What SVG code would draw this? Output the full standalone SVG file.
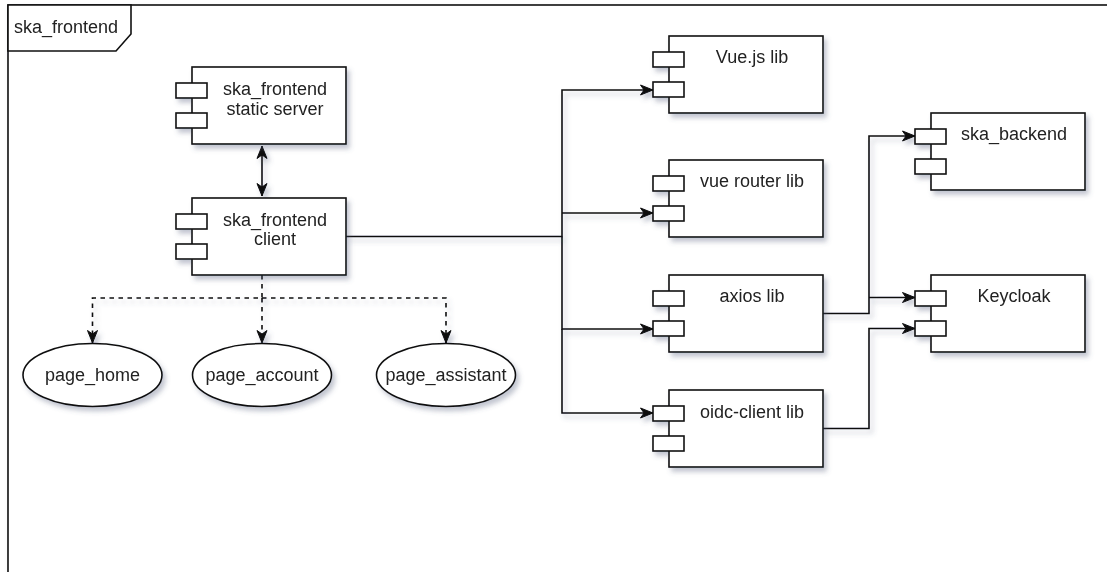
<svg xmlns="http://www.w3.org/2000/svg" width="1107" height="572" viewBox="0 0 1107 572">
<style>
.sh{stroke:#111;stroke-width:1.6;fill:#fff}
.ln{stroke:#111;stroke-width:1.6;fill:none}
.dl{stroke:#111;stroke-width:1.6;fill:none;stroke-dasharray:4.5 4.5}
.t{font-family:"Liberation Sans",Arial,Helvetica,sans-serif;font-size:18px;fill:#222;text-anchor:middle}
.tl{font-family:"Liberation Sans",Arial,Helvetica,sans-serif;font-size:18px;fill:#222}
</style>
<defs>
<filter id="shadow" x="-20%" y="-20%" width="150%" height="160%">
<feGaussianBlur in="SourceAlpha" stdDeviation="2.5"/>
<feOffset dx="3" dy="4" result="b"/>
<feFlood flood-color="#505a78" flood-opacity="0.35"/>
<feComposite in2="b" operator="in"/>
<feMerge><feMergeNode/><feMergeNode in="SourceGraphic"/></feMerge>
</filter>
<marker id="arr" markerUnits="userSpaceOnUse" markerWidth="14" markerHeight="12" refX="13" refY="6" orient="auto-start-reverse" viewBox="0 0 14 12">
<path d="M0.5,1 L13,6 L0.5,11 L4,6 Z" fill="#111" stroke="#111" stroke-width="1"/>
</marker>
<g id="comp">
<rect x="0" y="0" width="154" height="77" class="sh"/>
<rect x="-16" y="16" width="31" height="15" class="sh"/>
<rect x="-16" y="46" width="31" height="15" class="sh"/>
</g>
</defs>

<g id="frame" filter="url(#shadow)">
<rect x="8" y="5" width="1200" height="700" class="sh"/>
<path d="M8,5 H131 V34 L116,51 H8 Z" class="sh"/>
<text class="tl" x="14" y="33">ska_frontend</text>
</g>

<g id="connectors" filter="url(#shadow)">
<path class="ln" d="M262,146 V196" marker-start="url(#arr)" marker-end="url(#arr)"/>
<path class="ln" d="M346,236.5 H562 V90 H653" marker-end="url(#arr)"/>
<path class="ln" d="M562,213 H653" marker-end="url(#arr)"/>
<path class="ln" d="M562,236.5 V329 H653" marker-end="url(#arr)"/>
<path class="ln" d="M562,329 V413 H653" marker-end="url(#arr)"/>
<path class="ln" d="M823,313.5 H869 V136 H915" marker-end="url(#arr)"/>
<path class="ln" d="M869,297.5 H915" marker-end="url(#arr)"/>
<path class="ln" d="M823,428.5 H869 V328.5 H915" marker-end="url(#arr)"/>
<path class="dl" d="M262,275 V298 H92.5 V343" marker-end="url(#arr)"/>
<path class="dl" d="M262,298 V343" marker-end="url(#arr)"/>
<path class="dl" d="M262,298 H446 V343" marker-end="url(#arr)"/>
</g>

<g id="static_server" filter="url(#shadow)" transform="translate(192,67)">
<use href="#comp"/>
<text class="t" x="83" y="28">ska_frontend</text>
<text class="t" x="83" y="48">static server</text>
</g>
<g id="client" filter="url(#shadow)" transform="translate(192,198)">
<use href="#comp"/>
<text class="t" x="83" y="28">ska_frontend</text>
<text class="t" x="83" y="47">client</text>
</g>
<g id="vue" filter="url(#shadow)" transform="translate(669,36)">
<use href="#comp"/>
<text class="t" x="83" y="27">Vue.js lib</text>
</g>
<g id="vue_router" filter="url(#shadow)" transform="translate(669,160)">
<use href="#comp"/>
<text class="t" x="83" y="27">vue router lib</text>
</g>
<g id="axios" filter="url(#shadow)" transform="translate(669,275)">
<use href="#comp"/>
<text class="t" x="83" y="27">axios lib</text>
</g>
<g id="oidc" filter="url(#shadow)" transform="translate(669,390)">
<use href="#comp"/>
<text class="t" x="83" y="28">oidc-client lib</text>
</g>
<g id="ska_backend" filter="url(#shadow)" transform="translate(931,113)">
<use href="#comp"/>
<text class="t" x="83" y="27">ska_backend</text>
</g>
<g id="keycloak" filter="url(#shadow)" transform="translate(931,275)">
<use href="#comp"/>
<text class="t" x="83" y="27">Keycloak</text>
</g>

<g id="page_home" filter="url(#shadow)">
<ellipse cx="92.5" cy="375" rx="69.5" ry="31.5" class="sh"/>
<text class="t" x="92.5" y="381">page_home</text>
</g>
<g id="page_account" filter="url(#shadow)">
<ellipse cx="262" cy="375" rx="69.5" ry="31.5" class="sh"/>
<text class="t" x="262" y="381">page_account</text>
</g>
<g id="page_assistant" filter="url(#shadow)">
<ellipse cx="446" cy="375" rx="69.5" ry="31.5" class="sh"/>
<text class="t" x="446" y="381">page_assistant</text>
</g>
</svg>
